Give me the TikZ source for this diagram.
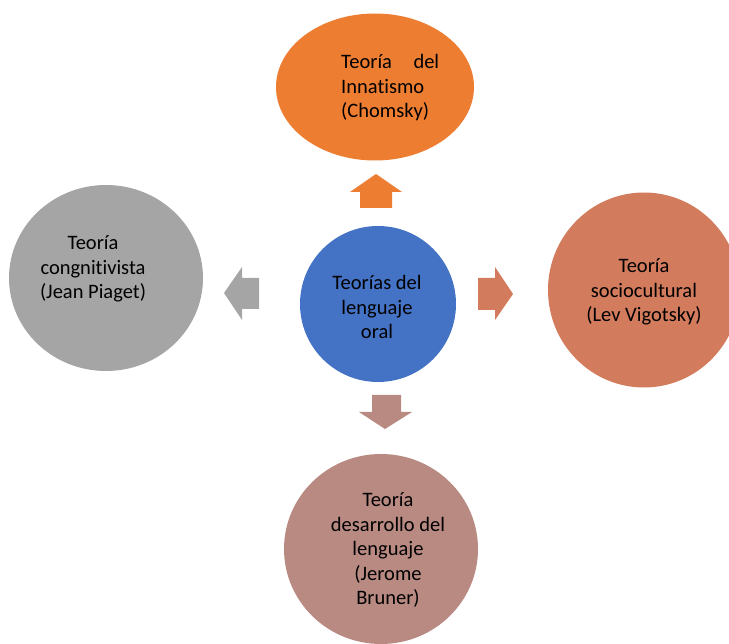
\documentclass[tikz,border=0pt]{standalone}
\usepackage{fontspec}
\setmainfont{Carlito}[Ligatures=NoCommon]
\usetikzlibrary{shapes.geometric}
\definecolor{corange}{HTML}{ED7D31}
\definecolor{cblue}{HTML}{4472C4}
\definecolor{cgray}{HTML}{A5A5A5}
\definecolor{csalmon}{HTML}{D27B5D}
\definecolor{crose}{HTML}{B98A82}
\tikzset{
  bubble/.style={ellipse, draw=none, inner sep=0pt},
  btext/.style={align=center, inner sep=0pt, text=black,
    font=\fontsize{20.5}{24.5}\selectfont},
}
\begin{document}
\begin{tikzpicture}[x=1pt,y=-1pt]
\useasboundingbox (0,0) rectangle (729,644);
\clip (0,0) rectangle (729,644);
% bubbles
\node[bubble, fill=corange, minimum width=198pt, minimum height=147pt] (top) at (375,87) {};
\node[bubble, fill=cblue, minimum width=156pt, minimum height=156pt] (center) at (378,304) {};
\node[bubble, fill=cgray, minimum width=194pt, minimum height=186pt] (left) at (106,278) {};
\node[bubble, fill=csalmon, minimum width=192pt, minimum height=195pt] (right) at (644,290) {};
\node[bubble, fill=crose, minimum width=194pt, minimum height=190pt] (bottom) at (381,549) {};
% texts
\node[btext, align=left, anchor=west] (ttop) at (341,88) {\makebox[98pt][s]{Teoría\hfill del}\\Innatismo\\(Chomsky)};
\node[btext] (tcenter) at (377,307) {Teorías del\\lenguaje\\oral};
\node[btext] (tleft) at (93,269) {Teoría\\congnitivista\\(Jean Piaget)};
\node[btext] (tright) at (644,292) {Teoría\\sociocultural\\(Lev Vigotsky)};
\node[btext] (tbottom) at (388,550) {Teoría\\desarrollo del\\lenguaje\\(Jerome\\Bruner)};
% block arrows
\fill[corange] (360,208) -- (360,192) -- (350,192) -- (376,174) -- (402,192) -- (392,192) -- (392,208) -- cycle;
\fill[cgray] (259,278) -- (242,278) -- (242,267) -- (224,293) -- (242,320) -- (242,309) -- (259,309) -- cycle;
\fill[csalmon] (478,278) -- (495,278) -- (495,267) -- (513,294) -- (495,320) -- (495,310) -- (478,310) -- cycle;
\fill[crose] (372,395) -- (401,395) -- (401,412) -- (412,412) -- (385,429) -- (359,412) -- (372,412) -- cycle;
\end{tikzpicture}
\end{document}
